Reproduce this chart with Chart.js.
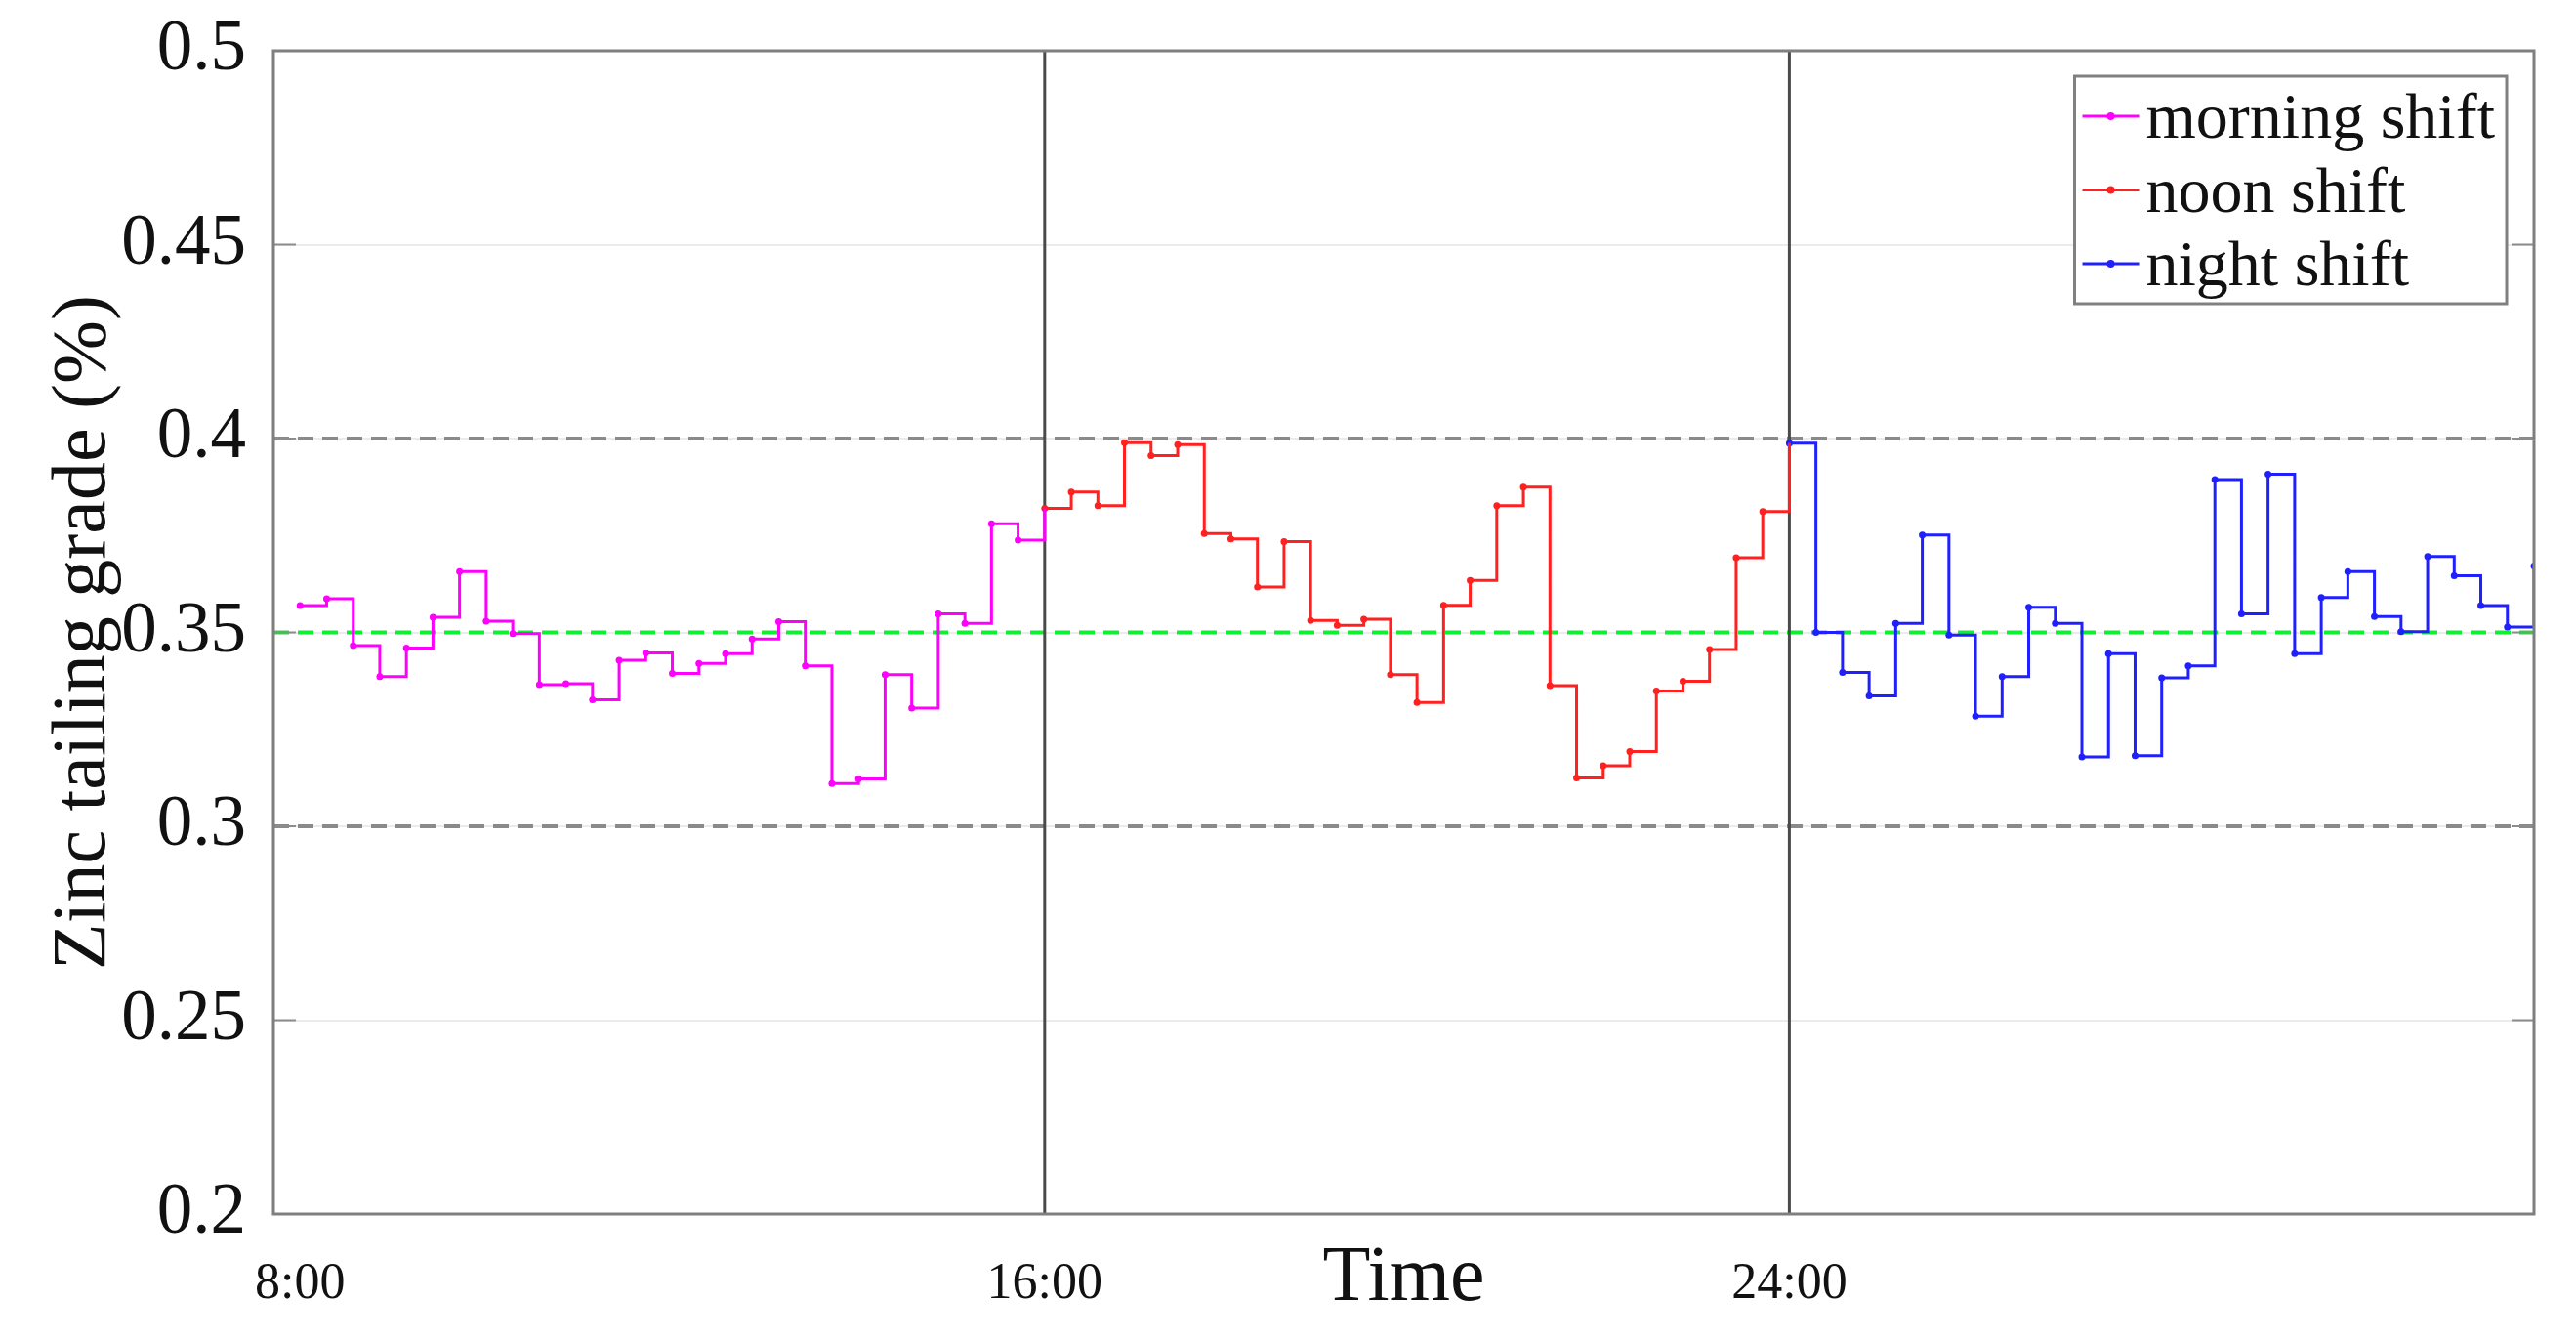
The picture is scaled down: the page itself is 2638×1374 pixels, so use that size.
<!DOCTYPE html>
<html>
<head>
<meta charset="utf-8">
<title>Zinc tailing grade</title>
<script src="https://cdn.jsdelivr.net/npm/chart.js@4.4.1/dist/chart.umd.min.js"></script>
<style>
  html, body { margin: 0; padding: 0; background: #fff; }
  #wrap { width: 2638px; height: 1374px; }
</style>
</head>
<body>
<div id="wrap"><canvas id="chart" width="2638" height="1374"></canvas></div>
<script>
// readings per shift, one per sample
const morningShift = [0.3569, 0.3587, 0.3466, 0.3386, 0.3460, 0.3539, 0.3657, 0.3529, 0.3497, 0.3365,
  0.3368, 0.3326, 0.3428, 0.3447, 0.3394, 0.3420, 0.3445, 0.3483, 0.3528, 0.3414,
  0.3110, 0.3122, 0.3391, 0.3305, 0.3548, 0.3523, 0.3780, 0.3738];
const noonShift = [0.3820, 0.3862, 0.3827, 0.3989, 0.3956, 0.3984, 0.3755, 0.3741, 0.3617, 0.3734,
  0.3531, 0.3518, 0.3534, 0.3391, 0.3319, 0.3570, 0.3634, 0.3827, 0.3875, 0.3363,
  0.3125, 0.3156, 0.3193, 0.3349, 0.3374, 0.3456, 0.3693, 0.3812];
const nightShift = [0.3988, 0.3500, 0.3397, 0.3336, 0.3523, 0.3751, 0.3493, 0.3284, 0.3386, 0.3565,
  0.3523, 0.3179, 0.3445, 0.3182, 0.3383, 0.3414, 0.3894, 0.3548, 0.3908, 0.3445,
  0.3590, 0.3657, 0.3541, 0.3502, 0.3696, 0.3646, 0.3569, 0.3514, 0.3671];

const shiftNames = ['morning shift', 'noon shift', 'night shift'];
const shiftStarts = [1, 29, 57];
const timeTickValues = [1, 29, 57];
const timeTickLabels = ['8:00', '16:00', '24:00'];
const controlLimits = [0.3, 0.4];
const targetGrade = [0.35];
const xLimits = [0, 85];
const yLimits = [0.2, 0.5];

const serif = '"Liberation Serif", "Times New Roman", serif';
const ink = '#111';

// sample index -> point; the tail joins a shift to the first reading of the next one
const toPoints = (values, start, tail) => {
  const pts = values.map((y, i) => ({ x: start + i, y }));
  if (tail !== undefined) pts.push({ x: start + values.length, y: tail, tail: true });
  return pts;
};

const shiftSet = (label, color, data) => ({
  label,
  data,
  inLegend: true,
  borderColor: color,
  backgroundColor: color,
  borderWidth: 3,
  stepped: 'before',
  pointRadius: c => (c.raw && c.raw.tail ? 0 : 3.5),
  pointBorderWidth: 0,
  pointBackgroundColor: color,
  order: 0
});

const hLine = (y, color) => ({
  data: [{ x: xLimits[0], y }, { x: xLimits[1], y }],
  borderColor: color,
  borderWidth: 4,
  borderDash: [16, 9],
  pointRadius: 0,
  order: 3
});

const vLine = x => ({
  data: [{ x, y: yLimits[0] }, { x, y: yLimits[1] }],
  borderColor: '#4a4a4a',
  borderWidth: 3,
  pointRadius: 0,
  order: 2
});

const datasets = [
  shiftSet(shiftNames[0], '#ff00ff', toPoints(morningShift, shiftStarts[0], noonShift[0])),
  shiftSet(shiftNames[1], '#ff2020', toPoints(noonShift, shiftStarts[1], nightShift[0])),
  shiftSet(shiftNames[2], '#2020ff', toPoints(nightShift, shiftStarts[2])),
  ...controlLimits.map(y => hLine(y, '#8a8a8a')),
  ...targetGrade.map(y => hLine(y, '#11ee33')),
  ...shiftStarts.slice(1).map(vLine)
];

const noEdgePadding = s => {
  s.paddingTop = 0; s.paddingBottom = 0; s.paddingLeft = 0; s.paddingRight = 0;
};

// matlab-style box, inner ticks and boxed legend
const boxPlugin = {
  id: 'matlabBox',
  afterDraw(chart) {
    const { ctx, chartArea: a, scales: { y } } = chart;
    ctx.save();

    ctx.strokeStyle = '#8c8c8c';
    ctx.lineWidth = 2;
    y.ticks.forEach(t => {
      const py = y.getPixelForValue(t.value);
      ctx.beginPath();
      ctx.moveTo(a.left, py); ctx.lineTo(a.left + 23, py);
      ctx.moveTo(a.right, py); ctx.lineTo(a.right - 23, py);
      ctx.stroke();
    });

    ctx.strokeStyle = '#7f7f7f';
    ctx.lineWidth = 3;
    ctx.strokeRect(a.left, a.top, a.right - a.left, a.bottom - a.top);

    const items = chart.data.datasets.filter(d => d.inLegend);
    ctx.font = '66px ' + serif;
    const textW = Math.max(...items.map(d => ctx.measureText(d.label).width));
    const rowH = 75.5;
    const w = 73 + textW + 12;
    const h = 82 + rowH * (items.length - 1);
    const left = a.right - 28 - w;
    const top = a.top + 26;
    ctx.fillStyle = '#fff';
    ctx.fillRect(left, top, w, h);
    ctx.strokeStyle = '#808080';
    ctx.lineWidth = 3;
    ctx.strokeRect(left, top, w, h);

    items.forEach((d, i) => {
      const cy = top + 41 + i * rowH;
      ctx.strokeStyle = d.borderColor;
      ctx.lineWidth = 3;
      ctx.beginPath();
      ctx.moveTo(left + 8, cy); ctx.lineTo(left + 66, cy);
      ctx.stroke();
      ctx.fillStyle = d.borderColor;
      ctx.beginPath();
      ctx.arc(left + 37, cy, 4, 0, Math.PI * 2);
      ctx.fill();
      ctx.fillStyle = ink;
      ctx.textBaseline = 'middle';
      ctx.textAlign = 'left';
      ctx.fillText(d.label, left + 73, cy + 5);
    });
    ctx.restore();
  }
};

new Chart(document.getElementById('chart'), {
  type: 'line',
  data: { datasets },
  plugins: [boxPlugin],
  options: {
    responsive: false,
    animation: false,
    layout: { padding: { top: 52, right: 43, left: 0, bottom: 0 } },
    plugins: { legend: { display: false }, tooltip: { enabled: false } },
    scales: {
      x: {
        type: 'linear',
        min: xLimits[0],
        max: xLimits[1],
        grid: { display: false },
        border: { display: false },
        afterBuildTicks: s => { s.ticks = timeTickValues.map(value => ({ value })); },
        afterFit: s => { s.height = 131; noEdgePadding(s); },
        ticks: {
          autoSkip: false,
          maxRotation: 0,
          padding: 33,
          color: ink,
          font: { family: serif, size: 52 },
          callback: v => timeTickLabels[timeTickValues.indexOf(v)]
        },
        title: {
          display: true,
          text: 'Time',
          color: ink,
          font: { family: serif, size: 80 },
          padding: { top: 0, bottom: 16 }
        }
      },
      y: {
        min: yLimits[0],
        max: yLimits[1],
        grid: { color: '#ebebeb', lineWidth: 2, drawTicks: false },
        border: { display: false },
        afterFit: s => { s.width = 280; noEdgePadding(s); },
        ticks: {
          stepSize: 0.05,
          padding: 28,
          color: ink,
          font: { family: serif, size: 73 },
          callback: v => String(+v.toFixed(2))
        },
        title: {
          display: true,
          text: 'Zinc tailing grade (%)',
          color: ink,
          font: { family: serif, size: 78 },
          padding: { top: 40, bottom: 0 }
        }
      }
    }
  }
});
</script>
</body>
</html>
